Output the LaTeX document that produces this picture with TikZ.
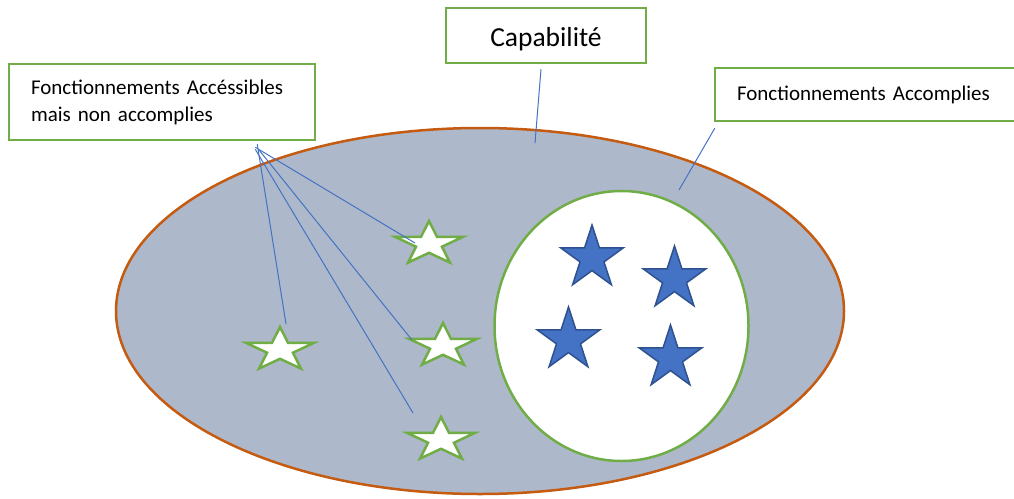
\documentclass[tikz,border=0pt]{standalone}
\usepackage{fontspec}
\setmainfont{Carlito}
\usetikzlibrary{calc,positioning,shapes.geometric}
\definecolor{boxgreen}{HTML}{70AD47}
\definecolor{lineblue}{HTML}{4472C4}
\definecolor{starborder}{HTML}{2F528F}
\definecolor{setfill}{HTML}{ADB9CA}
\definecolor{setborder}{HTML}{C55A11}
\tikzset{
mybox/.style={
  rectangle,
  line width=2.5pt,
  draw=boxgreen,
  fill=white,
  inner xsep=22pt,
  align=left,
  }
}
\tikzset{
myline/.style={
  line width=1pt,
  draw=lineblue,
  }
}
\tikzset{
mywhitestar/.style={
  star,
  star points=5,
  star point ratio=2.618,
  minimum size=46pt,
  inner sep=0pt,
  xscale=1.55,
  line width=2.5pt,
  draw=boxgreen,
  fill=white,
  }
}
\tikzset{
mybluestar/.style={
  star,
  star points=5,
  star point ratio=2.618,
  minimum size=66pt,
  inner sep=0pt,
  line width=1.5pt,
  draw=starborder,
  fill=lineblue,
  }
}

\begin{document}
\begin{tikzpicture}[x=1pt,y=-1pt]
    \useasboundingbox (0,0) rectangle (1014,498);

    % sets
    \node[ellipse, draw=setborder, line width=2.5pt, fill=setfill, minimum width=728pt, minimum height=366pt, inner sep=0pt] (capset) at (480,311) {};
    \node[ellipse, draw=boxgreen, line width=2.5pt, fill=white, minimum width=254pt, minimum height=270pt, inner sep=0pt] (accset) at (621.5,326) {};

    % accessible functionings
    \node[mywhitestar] (sw1) at (429,244) {};
    \node[mywhitestar] (sw2) at (443,346) {};
    \node[mywhitestar] (sw3) at (441,440) {};
    \node[mywhitestar] (sw4) at (280,350) {};

    % achieved functionings
    \node[mybluestar] (sb1) at (592,258) {};
    \node[mybluestar] (sb2) at (674.5,279) {};
    \node[mybluestar] (sb3) at (568.5,340) {};
    \node[mybluestar] (sb4) at (670.5,358) {};

    % labels
    \node[mybox, minimum width=200pt, minimum height=55pt, align=center, text height=26pt, text depth=4pt, font=\fontsize{27.5}{33}\selectfont] (capa) at (546,35.5) {Capabilité};
    \node[mybox, text width=262pt, minimum height=76pt, font=\fontsize{21}{27}\selectfont] (accnon) at (162,102) {Fonctionnements Accéssibles\\mais non accomplies};
    \node[mybox, text width=256pt, minimum height=53pt, font=\fontsize{21}{27}\selectfont] (acc) at (865,94.5) {Fonctionnements Accomplies};

    % free ends
    \coordinate (capaend) at (535,143);
    \coordinate (accend) at (679,190);
    \coordinate (tip1) at (415,243);
    \coordinate (tip2) at (412,340);
    \coordinate (tip3) at (413,413);
    \coordinate (tip4) at (286,324);

    % callout edges
    \draw[myline] ($(capa.south)+(-5,5)$) -- (capaend);
    \draw[myline] ($(acc.south west)+(1,6)$) -- (accend);
    \draw[myline] ($(accnon.south east)+(-61,6)$) -- (tip1);
    \draw[myline] ($(accnon.south east)+(-57,9)$) -- (tip2);
    \draw[myline] ($(accnon.south east)+(-61,8)$) -- (tip3);
    \draw[myline] ($(accnon.south east)+(-59,3)$) -- (tip4);
\end{tikzpicture}
\end{document}
